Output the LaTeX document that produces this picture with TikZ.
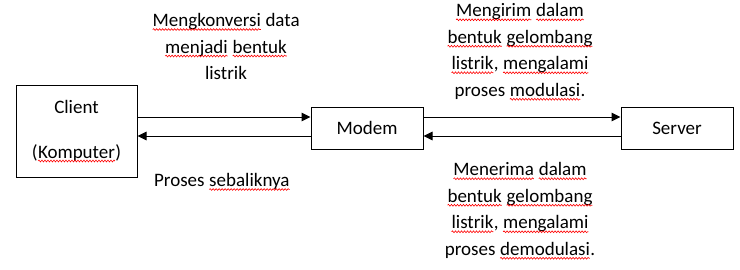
\documentclass[tikz,border=0pt]{standalone}
\usepackage{fontspec}
\setmainfont{Carlito}
\usetikzlibrary{arrows.meta,decorations.pathmorphing}
\newcommand\sq[1]{\tikz[baseline=(w.base)]{\node[inner sep=0pt, outer sep=0pt, minimum width=0pt, minimum height=0pt, draw=none] (w) {#1};
  \draw[red, line width=0.6pt, decorate, decoration={snake, amplitude=0.9pt, segment length=3pt}]
    ([yshift=-3pt]w.base west) -- ([yshift=-3pt]w.base east);}}
\tikzset{
  box/.style={draw, line width=1pt, inner sep=0pt},
  arr/.style={line width=1pt, -{Triangle[length=9pt,width=8.5pt]}},
  txt/.style={align=center, inner sep=0pt, font=\fontsize{19}{26.5}\selectfont}
}
\begin{document}
\begin{tikzpicture}[x=1pt,y=-1pt]
\useasboundingbox (0,0) rectangle (740,269);
\node[box, minimum width=121pt, minimum height=92pt, align=center,
      font=\fontsize{19}{22.5}\selectfont] (client) at (76.5,131)
      {Client\\[22.5pt](\sq{Komputer})};
\node[box, minimum width=112pt, minimum height=42pt, font=\fontsize{19}{22}\selectfont] (modem) at (367,128) {Modem};
\node[box, minimum width=112pt, minimum height=42pt, font=\fontsize{19}{22}\selectfont] (server) at (677,128) {Server};
\coordinate (up) at (0,117);
\coordinate (dn) at (0,136);
\draw[arr] (client.east |- up) -- (modem.west |- up);
\draw[arr] (modem.west |- dn) -- (client.east |- dn);
\draw[arr] (modem.east |- up) -- (server.west |- up);
\draw[arr] (server.west |- dn) -- (modem.east |- dn);
\node[txt] (t1) at (226,46.5) {\sq{Mengkonversi} data\\\sq{menjadi} \sq{bentuk}\\listrik};
\node[txt] (t2) at (222,182) {Proses \sq{sebaliknya}};
\node[txt] (t3) at (520,52) {\sq{Mengirim} \sq{dalam}\\\sq{bentuk} \sq{gelombang}\\\sq{listrik}, \sq{mengalami}\\proses \sq{modulasi}.};
\node[txt] (t4) at (520,211) {\sq{Menerima} \sq{dalam}\\\sq{bentuk} \sq{gelombang}\\\sq{listrik}, \sq{mengalami}\\proses \sq{demodulasi}.};
\end{tikzpicture}
\end{document}
